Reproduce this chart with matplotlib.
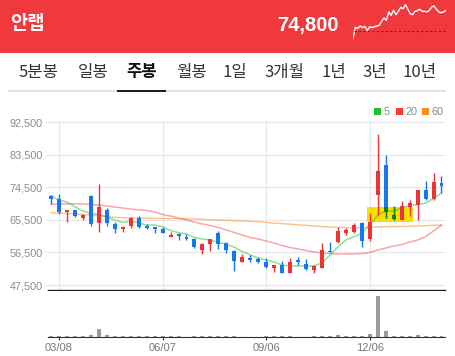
import numpy as np
import pandas as pd
import matplotlib
matplotlib.use('Agg')
from matplotlib import pyplot as plt
from matplotlib.patches import Rectangle

# ---- data (weekly candles, 50 weeks) ----
stock_name = '안랩'
last_price = '74,800'
tabs = ['5분봉', '일봉', '주봉', '월봉', '1일', '3개월', '1년', '3년', '10년']
active_tab = '주봉'

first_week = '2021-03-01'
date_labels = ['03/08', '06/07', '09/06', '12/06']

opens = [72160, 71250, 67740, 68200, 65920, 72160, 64540, 68200, 64270, 62840,
         63900, 66100, 63720, 63440, 62890, 60850, 61540, 60840, 60100, 57170,
         58830, 61950, 59200, 56990, 53940, 54960, 54590, 53940, 52120, 52950,
         50920, 54400, 53230, 51650, 52300, 57000, 59480, 61770, 62220, 64710,
         60290, 72350, 80630, 66830, 65450, 68960, 69600, 73730, 71160, 75600]
highs = [72350, 72550, 68200, 68200, 67110, 72350, 75380, 68660, 64990, 63720,
         66370, 66650, 64350, 63440, 63440, 62140, 61950, 61500, 60570, 59020,
         60290, 62500, 59480, 57200, 56070, 55790, 55150, 55000, 53030, 54140,
         54960, 55150, 54600, 53030, 59020, 59400, 63440, 63160, 64530, 64990,
         67300, 89190, 83390, 69320, 70700, 70970, 73730, 76220, 78350, 77600]
lows = [69870, 67030, 64820, 66280, 65450, 63900, 62220, 63900, 61950, 62220,
        63350, 63350, 62890, 61950, 61950, 60850, 59930, 59930, 57720, 56070,
        56990, 57350, 56260, 51460, 53940, 53940, 53490, 52120, 51190, 50920,
        50740, 53030, 51660, 50800, 52120, 56600, 59200, 61310, 61950, 57920,
        59740, 66830, 65920, 65450, 65450, 66550, 65450, 70970, 70970, 72990]
closes = [71250, 67570, 68200, 66640, 66830, 64270, 68960, 64540, 62980, 63440,
          66100, 63630, 63350, 63080, 61950, 61310, 61070, 60290, 57920, 58830,
          60100, 58830, 57170, 54220, 55330, 54400, 53940, 52560, 53030, 50920,
          53940, 53860, 51850, 52760, 57170, 56600, 62500, 62690, 64070, 59740,
          64990, 79060, 67740, 65640, 69320, 70060, 73730, 71160, 75860, 74800]

ma5 = [72160, 70970, 70420, 69120, 67940, 67250, 66970, 66360, 65450, 64760,
       65180, 64620, 64070, 64070, 63600, 62550, 61950, 61590, 60680, 60210,
       59930, 59240, 58830, 57920, 56760, 55790, 54960, 54410, 53860, 53030,
       52760, 52760, 52760, 52760, 53590, 55790, 58000, 59930, 60840, 61780,
       64070, 66830, 67940, 67940, 68760, 69590, 69730, 70140, 71440, 72900]
ma20 = [69790, 69870, 69920, 69950, 69870, 69730, 69590, 69320, 69040, 68760,
        68490, 68210, 68080, 67660, 66970, 66560, 66000, 65450, 64900, 64350,
        63930, 63380, 62690, 62000, 61310, 60620, 60200, 59660, 59100, 58410,
        57860, 57450, 57030, 56620, 56340, 56210, 56070, 56070, 56070, 56210,
        56480, 57170, 57720, 58280, 58690, 59380, 59930, 60900, 62420, 64070]
ma60 = [67470, 67380, 67250, 67110, 66970, 66830, 66560, 66360, 66220, 66090,
        66000, 65950, 65920, 65890, 65870, 65840, 65810, 65760, 65700, 65650,
        65560, 65450, 65370, 65290, 65200, 65090, 64950, 64790, 64620, 64460,
        64290, 64130, 63960, 63800, 63660, 63520, 63410, 63330, 63300, 63350,
        63440, 63520, 63580, 63630, 63660, 63710, 63800, 63880, 63960, 64070]

volume = [3, 3.5, 3, 3, 3, 5, 19, 5, 3, 3,
          3, 3, 3, 3, 3, 3, 3, 1, 3, 3,
          3, 3, 3, 3, 1, 1, 1, 3, 3, 3,
          3, 1, 1, 3, 3, 3, 5, 3, 3, 3.5,
          7.5, 100, 15.5, 3.5, 3.5, 3.5, 4, 3.5, 3.5, 3]

# highlighted pattern box (weeks and price range)
box_first, box_last = 40, 45
box_low, box_high = 64980, 68960

y_ticks = [47500, 56500, 65500, 74500, 83500, 92500]

# intraday sparkline in the header (relative to previous close)
spark = [-22, 12, 9, 16, 11, 15, 2, 14, 11, 14, 16, 18, 30, 40, 33, 58, 48, 64, 50, 60,
         72, 68, 80, 66, 53, 50, 60, 62, 66, 60, 60, 58, 63, 73, 76, 66, 58, 56, 58, 63]

# ---- style ----
W, H = 456, 356
RED = '#ee3338'
BLUE = '#1677ee'
BOXGREEN = '#15801a'
HEADER = '#f0393d'
GRID = '#e8e8ec'
KR = ['Noto Sans CJK KR', 'DejaVu Sans']
NUM = ['Liberation Sans', 'DejaVu Sans']


def fx(x):
    return x / W


def fy(y):
    return 1 - y / H


fig = plt.figure(figsize=(W / 100, H / 100), dpi=100)
fig.patch.set_facecolor('white')

# header
fig.add_artist(Rectangle((0, fy(53)), 1, 53 / H, transform=fig.transFigure,
                         facecolor=HEADER, edgecolor='none', zorder=-1))
fig.text(fx(10), fy(29), stock_name, color='white', fontsize=13.5,
         fontweight='bold', family=KR, va='baseline', ha='left')
fig.text(fx(339), fy(30.5), last_price, color='white', fontsize=14.5,
         fontweight='bold', family=NUM, va='baseline', ha='right')

sp = fig.add_axes([fx(353), fy(44), (446 - 353) / W, 42 / H])
sp.set_zorder(5)
sp.set_axis_off()
sp.plot(range(len(spark)), spark, color='white', lw=1)
sp.plot([0.6, len(spark) - 1], [0, 0], color='#6b2a2a', lw=0.8,
        linestyle=(0, (2, 2)))
sp.set_xlim(0, len(spark) - 1)
sp.set_ylim(-38, 88)

# tab bar
tab_x = [38.8, 93.3, 141.7, 191.2, 235, 284.2, 334.2, 375, 420]
for t, x in zip(tabs, tab_x):
    bold = t == active_tab
    fig.text(fx(x), fy(77.5), t, fontsize=12, family=KR, ha='center', va='baseline',
             color='#111111' if bold else '#333333',
             fontweight='bold' if bold else 'normal')
fig.add_artist(Rectangle((fx(8.5), fy(91.6)), (446 - 8.5) / W, 1.2 / H,
                         transform=fig.transFigure, facecolor='#e2e2e2', edgecolor='none'))
fig.add_artist(Rectangle((fx(116.7), fy(92.3)), 49 / W, 2.6 / H,
                         transform=fig.transFigure, facecolor='#1e1e1e', edgecolor='none'))

# legend
for name, col, sx, tx in [('5', '#22c022', 374.5, 384), ('20', '#f03c3c', 396, 405.5),
                          ('60', '#f68b1f', 422.5, 432)]:
    fig.add_artist(Rectangle((fx(sx), fy(115)), 7 / W, 7 / H, transform=fig.transFigure,
                             facecolor=col, edgecolor='none'))
    fig.text(fx(tx), fy(115), name, fontsize=7.8, family=NUM, color='#8a8a8a',
             ha='left', va='baseline')

# ---- price panel ----
n = len(opens)
idx = np.arange(n)
o = np.array(opens, float)
h = np.array(highs, float)
l = np.array(lows, float)
c = np.array(closes, float)
up = c >= o
cols = np.where(up, RED, BLUE)
weeks = pd.date_range(first_week, periods=n, freq='W-MON')
tick_idx = [i for i, d in enumerate(weeks) if d.strftime('%m/%d') in date_labels]

ax = fig.add_axes([fx(48), fy(290), (445 - 48) / W, (290 - 121) / H])
xlim = (-0.38, n - 0.56)
ax.set_xlim(*xlim)
ax.set_ylim(46120, 92800)
ax.set_yticks(y_ticks)
ax.set_yticklabels([f'{v:,}' for v in y_ticks])
ax.set_xticks(tick_idx)
ax.tick_params(axis='x', length=0, labelbottom=False)
ax.tick_params(axis='y', length=2.2, color=GRID, width=0.8, pad=1.6,
               labelsize=7.8, labelcolor='#8a8a8a')
for lab in ax.get_yticklabels():
    lab.set_family(NUM)
ax.grid(True, color=GRID, lw=0.9)
ax.set_axisbelow(True)
for s in ['top', 'left', 'right']:
    ax.spines[s].set_visible(False)
ax.spines['bottom'].set_color('#222222')
ax.spines['bottom'].set_linewidth(1.0)
ax.spines['bottom'].set_zorder(5)

box = Rectangle((box_first - 0.33, box_low), box_last - box_first + 0.7,
                box_high - box_low, facecolor='#f7e000', edgecolor='none', zorder=1)
ax.add_patch(box)

ax.plot(idx, ma60, color='#f68b1f', lw=1.1, alpha=0.5, zorder=2)
ax.plot(idx, ma20, color='#f03c3c', lw=1.1, alpha=0.45, zorder=2)
ax.plot(idx, ma5, color='#22c022', lw=1.1, alpha=0.5, zorder=2)

body_lo = np.minimum(o, c)
body_h = np.maximum(np.abs(c - o), 380)
ax.vlines(idx, l, h, colors=cols, lw=1.0, zorder=3)
ax.bar(idx, body_h, bottom=body_lo, width=0.5, color=cols, lw=0, zorder=3)

# blue candles under the yellow box look dark green
in_box = [i for i in range(box_first, box_last + 1) if not up[i]]
wk = ax.vlines(idx[in_box], l[in_box], h[in_box], colors=BOXGREEN, lw=1.0, zorder=4)
wk.set_clip_path(box)
for p in ax.bar(idx[in_box], body_h[in_box], bottom=body_lo[in_box], width=0.5,
                color=BOXGREEN, lw=0, zorder=4):
    p.set_clip_path(box)

# ---- volume panel ----
av = fig.add_axes([fx(48), fy(337), (445 - 48) / W, (337 - 291) / H])
av.bar(idx, volume, width=0.5, color='#9a9a9a', lw=0)
av.set_xlim(*xlim)
av.set_ylim(0, 112)
av.set_yticks([])
av.set_xticks(tick_idx)
av.set_xticklabels(date_labels)
av.tick_params(axis='x', length=2.4, width=0.8, color='#333333', pad=2.2,
               labelsize=8, labelcolor='#777777')
for lab in av.get_xticklabels():
    lab.set_family(NUM)
for s in ['top', 'left', 'right']:
    av.spines[s].set_visible(False)
av.spines['bottom'].set_color('#333333')
av.spines['bottom'].set_linewidth(0.8)

fig.savefig('out.png', dpi=100)
